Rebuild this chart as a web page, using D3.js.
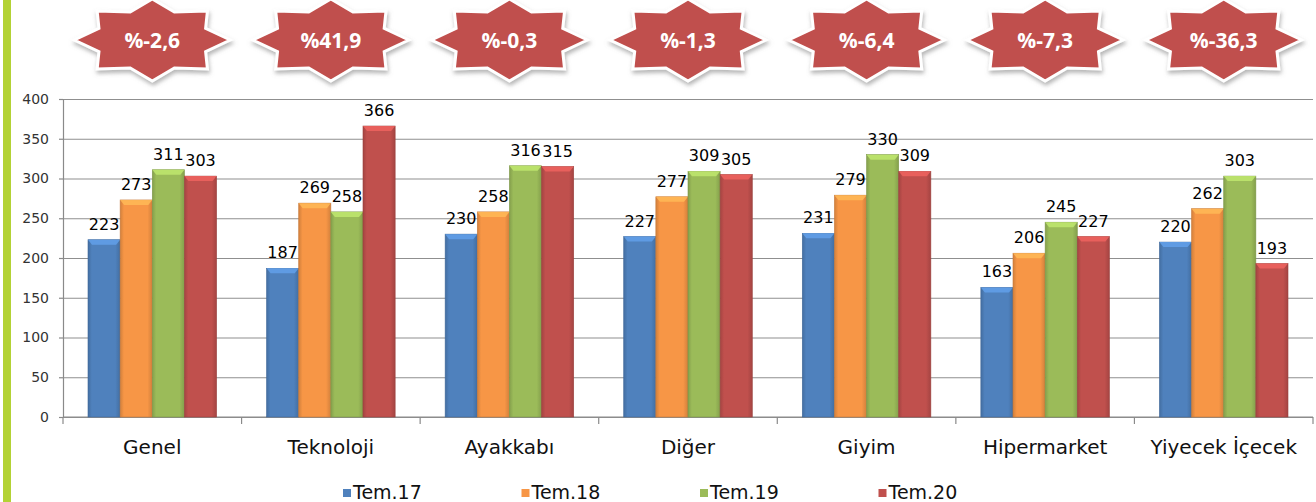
<!DOCTYPE html>
<html>
<head>
<meta charset="utf-8">
<script src="https://cdn.jsdelivr.net/npm/d3@7"></script>
<style>
  body { margin: 0; background: #fff; }
  svg { display: block; }
</style>
</head>
<body>
<div id="chart"></div>
<script>
var categories = ['Genel', 'Teknoloji', 'Ayakkabı', 'Diğer', 'Giyim', 'Hipermarket', 'Yiyecek İçecek'];
var seriesNames = ['Tem.17', 'Tem.18', 'Tem.19', 'Tem.20'];
var tem17 = [223, 187, 230, 227, 231, 163, 220];
var tem18 = [273, 269, 258, 277, 279, 206, 262];
var tem19 = [311, 258, 316, 309, 330, 245, 303];
var tem20 = [303, 366, 315, 305, 309, 227, 193];
var changes = ['%-2,6', '%41,9', '%-0,3', '%-1,3', '%-6,4', '%-7,3', '%-36,3'];
var yTicks = [0, 50, 100, 150, 200, 250, 300, 350, 400];

var colors = ['#4f81bd', '#f79646', '#9bbb59', '#c0504d'];
var allSeries = [tem17, tem18, tem19, tem20];

var width = 1316, height = 502;
var margin = {left: 63, right: 3, top: 99, bottom: 85};
var fontMain = 'DejaVu Sans, Verdana, sans-serif';

var svg = d3.select('#chart').append('svg')
  .attr('width', width).attr('height', height);

var defs = svg.append('defs');

// bar gradients (darker edges like the office 3d look)
colors.forEach(function(c, i) {
  var g = defs.append('linearGradient').attr('id', 'grad' + i)
    .attr('x1', '0%').attr('x2', '100%').attr('y1', '0%').attr('y2', '0%');
  var dark = d3.color(c).darker(0.45);
  g.append('stop').attr('offset', '0%').attr('stop-color', dark);
  g.append('stop').attr('offset', '12%').attr('stop-color', c);
  g.append('stop').attr('offset', '85%').attr('stop-color', c);
  g.append('stop').attr('offset', '100%').attr('stop-color', dark);
});

var shadow = defs.append('filter').attr('id', 'starShadow')
  .attr('x', '-20%').attr('y', '-20%').attr('width', '140%').attr('height', '150%');
shadow.append('feDropShadow').attr('dx', 1).attr('dy', 3)
  .attr('stdDeviation', 2).attr('flood-color', '#777').attr('flood-opacity', 0.55);

// left green stripe
svg.append('rect').attr('x', 3).attr('y', 0).attr('width', 8).attr('height', height)
  .attr('fill', '#b3d235');

var x = d3.scaleBand().domain(categories)
  .range([margin.left, width - margin.right]).padding(0);
var x1 = d3.scaleBand().domain(seriesNames)
  .range([x.bandwidth() * 0.14, x.bandwidth() * 0.86]).padding(0);
var y = d3.scaleLinear().domain([0, 400]).range([height - margin.bottom, margin.top]);

// gridlines
var grid = svg.append('g').attr('transform', 'translate(' + margin.left + ',0)')
  .call(d3.axisLeft(y).tickValues(yTicks).tickSize(-(width - margin.right - margin.left)).tickFormat(''));
grid.select('.domain').remove();
grid.selectAll('line').attr('stroke', '#8f8f8f').attr('stroke-width', 1.2);

// y axis
var yAxis = svg.append('g').attr('transform', 'translate(' + margin.left + ',0)')
  .call(d3.axisLeft(y).tickValues(yTicks).tickSize(4).tickSizeOuter(0).tickPadding(10));
yAxis.select('.domain').attr('stroke', '#8a8a8a').attr('stroke-width', 1.2);
yAxis.selectAll('line').attr('stroke', '#8a8a8a').attr('stroke-width', 1.2);
yAxis.selectAll('text').attr('fill', '#333').style('font-family', fontMain)
  .style('font-size', '14px');

// x axis
var xAxis = svg.append('g').attr('transform', 'translate(0,' + y(0) + ')');
xAxis.append('line').attr('x1', x.range()[0]).attr('x2', x.range()[1])
  .attr('stroke', '#8a8a8a').attr('stroke-width', 1.2);
var bounds = categories.map(function(c) { return x(c); }).concat([x.range()[1]]);
xAxis.selectAll('line.tk').data(bounds).enter().append('line').attr('class', 'tk')
  .attr('x1', function(d) { return d; }).attr('x2', function(d) { return d; })
  .attr('y1', 0).attr('y2', 7).attr('stroke', '#8a8a8a').attr('stroke-width', 1.2);
xAxis.selectAll('text').data(categories).enter().append('text')
  .attr('x', function(d) { return x(d) + x.bandwidth() / 2; })
  .attr('y', 37).attr('text-anchor', 'middle')
  .attr('fill', '#111')
  .style('font-family', fontMain).style('font-size', '20px')
  .text(function(d) { return d; });

// bars
var groups = svg.selectAll('g.grp').data(categories).enter().append('g')
  .attr('class', 'grp')
  .attr('transform', function(d) { return 'translate(' + x(d) + ',0)'; });

groups.each(function(cat, ci) {
  var g = d3.select(this);
  seriesNames.forEach(function(s, si) {
    var v = allSeries[si][ci];
    var bx = x1(s), bw = x1.bandwidth(), by = y(v), bh = y(0) - y(v);
    g.append('rect').attr('x', bx).attr('y', by).attr('width', bw).attr('height', bh)
      .attr('fill', 'url(#grad' + si + ')')
      .attr('stroke', d3.color(colors[si]).darker(0.6)).attr('stroke-width', 0.6);
    // top bevel
    var lite = d3.color(colors[si]).brighter(0.6);
    g.append('path')
      .attr('d', 'M' + bx + ',' + by + 'L' + (bx + bw) + ',' + by +
        'L' + (bx + bw - 4) + ',' + (by + 5) + 'L' + (bx + 4) + ',' + (by + 5) + 'Z')
      .attr('fill', lite).attr('opacity', 0.85);
    g.append('text').attr('x', bx + bw / 2).attr('y', by - 10)
      .attr('text-anchor', 'middle').attr('fill', '#000')
      .style('font-family', fontMain).style('font-size', '16px')
      .text(v);
  });
});

// stars with yearly change
function starPath(rx, ry, inner) {
  var pts = [];
  for (var i = 0; i < 16; i++) {
    var a = i * Math.PI / 8;
    var r = i % 2 === 0 ? 1 : inner;
    pts.push([Math.cos(a) * rx * r, Math.sin(a) * ry * r]);
  }
  return d3.line()(pts) + 'Z';
}

var stars = svg.selectAll('g.star').data(changes).enter().append('g')
  .attr('class', 'star')
  .attr('transform', function(d, i) {
    return 'translate(' + (x(categories[i]) + x.bandwidth() / 2) + ',40)';
  });
stars.append('path').attr('d', starPath(78, 41, 0.74))
  .attr('fill', '#c0504d').attr('stroke', '#fff').attr('stroke-width', 3)
  .attr('stroke-linejoin', 'miter')
  .attr('filter', 'url(#starShadow)');
stars.append('text').attr('text-anchor', 'middle').attr('dy', '0.36em')
  .attr('fill', '#fff')
  .style('font-family', 'Open Sans, sans-serif').style('font-weight', 'bold').style('font-size', '21px')
  .text(function(d) { return d; });

// legend
var legend = svg.selectAll('g.leg').data(seriesNames).enter().append('g')
  .attr('class', 'leg')
  .attr('transform', function(d, i) { return 'translate(' + (343 + i * 178.5) + ',493)'; });
legend.append('rect').attr('x', 0).attr('y', -4).attr('width', 8).attr('height', 8)
  .attr('fill', function(d, i) { return colors[i]; });
legend.append('text').attr('x', 10).attr('y', -1).attr('dy', '0.36em').attr('fill', '#111')
  .style('font-family', fontMain).style('font-size', '19px')
  .text(function(d) { return d; });
</script>
</body>
</html>
